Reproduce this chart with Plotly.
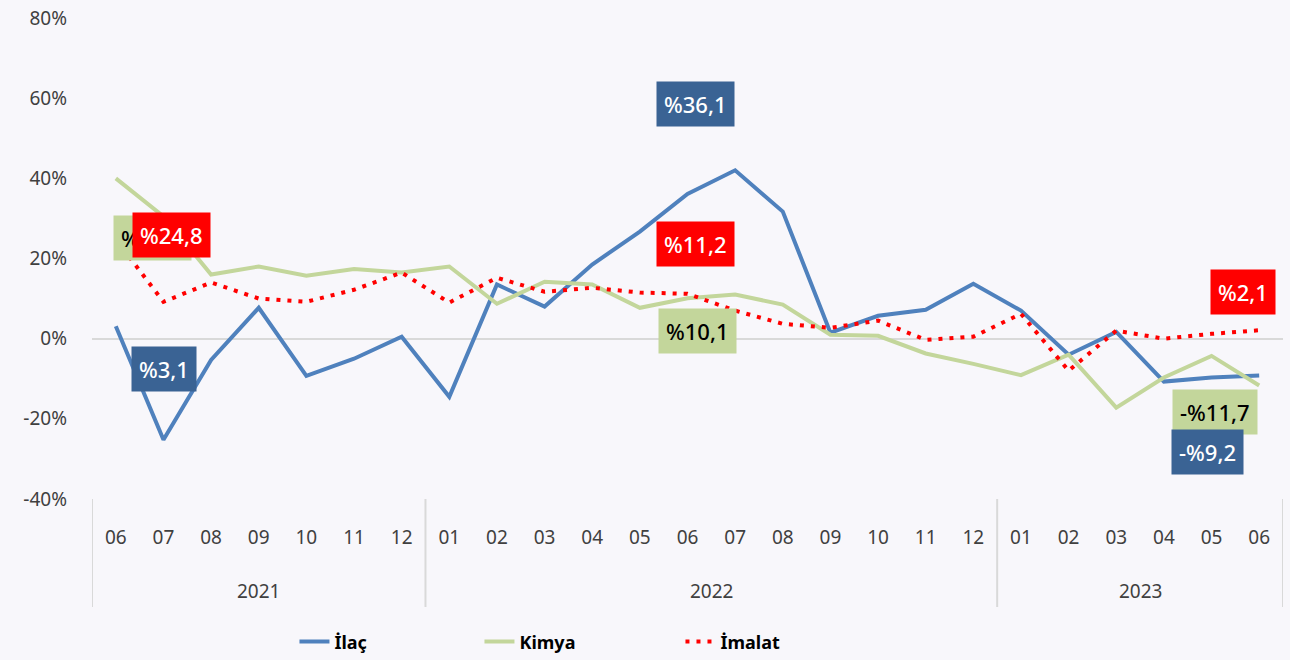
import plotly.graph_objects as go

months = ["06","07","08","09","10","11","12",
          "01","02","03","04","05","06","07","08","09","10","11","12",
          "01","02","03","04","05","06"]
years = ["2021", "2022", "2023"]
year_counts = [7, 12, 6]
y_ticks = [-40, -20, 0, 20, 40, 60, 80]
y_tick_text = ["-40%", "-20%", "0%", "20%", "40%", "60%", "80%"]

ilac = [3.1, -25.2, -5.3, 7.7, -9.3, -5.0, 0.5,
        -14.5, 13.5, 8.0, 18.5, 26.7, 36.1, 42.0, 31.7, 1.5, 5.7, 7.2, 13.7,
        7.0, -4.0, 1.7, -10.7, -9.7, -9.2]
kimya = [40.0, 30.5, 16.0, 18.0, 15.7, 17.4, 16.5,
         18.0, 8.7, 14.2, 13.5, 7.7, 10.1, 11.0, 8.5, 1.0, 0.7, -3.7, -6.3,
         -9.1, -4.0, -17.2, -9.7, -4.3, -11.7]
imalat = [24.8, 9.2, 14.0, 10.0, 9.2, 12.2, 16.5,
          9.0, 15.2, 11.7, 12.7, 11.5, 11.2, 7.0, 3.7, 2.7, 4.5, -0.3, 0.5,
          6.2, -8.0, 2.0, 0.0, 1.2, 2.1]

series_names = ["İlaç", "Kimya", "İmalat"]
line_colors = ["#4f81bd", "#c3d69b", "#ff0000"]
box_colors = ["#3a6394", "#c3d69b", "#ff0000"]
text_colors = ["white", "black", "white"]
BG = "#f8f7fb"

x = list(range(len(months)))
FONT = "Noto Sans"

fig = go.Figure()
fig.add_trace(go.Scatter(x=x, y=ilac, name=series_names[0], mode="lines", legendwidth=140,
                         line=dict(color=line_colors[0], width=4)))
fig.add_trace(go.Scatter(x=x, y=kimya, name=series_names[1], mode="lines", legendwidth=156,
                         line=dict(color=line_colors[1], width=4)))
fig.add_trace(go.Scatter(x=x, y=imalat, name=series_names[2], mode="lines", legendwidth=100,
                         line=dict(color=line_colors[2], width=4, dash="4px,7px")))

def fmt(v):
    s = f"{abs(v):.1f}".replace(".", ",")
    return ("-%" if v < 0 else "%") + s

# (series index, point index, xshift, yshift)
labels = [
    (1, 0, 37, -60),
    (0, 0, 48, -43),
    (2, 0, 56, 4),
    (0, 12, 8, 90),
    (2, 12, 8, 50),
    (1, 12, 10, -33),
    (2, 24, -16, 38),
    (1, 24, -44, -26),
    (0, 24, -52, -76),
]
data = [ilac, kimya, imalat]
for si, pi, dx, dy in labels:
    v = data[si][pi]
    fig.add_annotation(x=pi, y=v, xref="x", yref="y", text=fmt(v), showarrow=False,
                       xshift=dx, yshift=dy, bgcolor=box_colors[si], borderpad=7,
                       font=dict(family=FONT, size=22, color=text_colors[si], weight=500))

# year labels and separators
start = 0
bounds = [-0.5]
for yr, n in zip(years, year_counts):
    mid = start + (n - 1) / 2
    fig.add_annotation(x=mid, y=-0.191, xref="x", yref="paper", text=yr, showarrow=False,
                       yanchor="middle", font=dict(family=FONT, size=19, color="#404040"))
    start += n
    bounds.append(start - 0.5)
for b in bounds:
    fig.add_shape(type="line", x0=b, x1=b, xref="x", y0=0, y1=-0.2245, yref="paper",
                  line=dict(color="#d9d9d9", width=2))

fig.update_layout(
    width=1290, height=660,
    margin=dict(l=92, r=7, t=18, b=161, autoexpand=False),
    paper_bgcolor=BG, plot_bgcolor=BG,
    font=dict(family=FONT, size=19, color="#404040"),
    showlegend=True,
    legend=dict(orientation="h", x=0.17, xanchor="left", y=-0.297, yanchor="middle",
                font=dict(family=FONT, size=18, color="black", weight="bold"),
                bgcolor="rgba(0,0,0,0)"),
)
fig.update_xaxes(range=[-0.5, 24.5], tickvals=x, ticktext=months, showgrid=False,
                 zeroline=False, showline=False, ticks="", ticklabelstandoff=25,
                 automargin=False,
                 tickfont=dict(family=FONT, size=19, color="#404040"))
fig.update_yaxes(range=[-40, 80], tickvals=y_ticks, ticktext=y_tick_text,
                 showgrid=False, zeroline=True, zerolinecolor="#d9d9d9", zerolinewidth=2,
                 showline=False, ticks="", ticklabelstandoff=24, automargin=False,
                 tickfont=dict(family=FONT, size=19, color="#404040"))

fig.write_html("out.html", config={"displayModeBar": False},
               post_script="document.body.style.margin='0';"
                           "document.body.style.background='" + BG + "';"
                           "document.body.style.overflow='hidden';")
